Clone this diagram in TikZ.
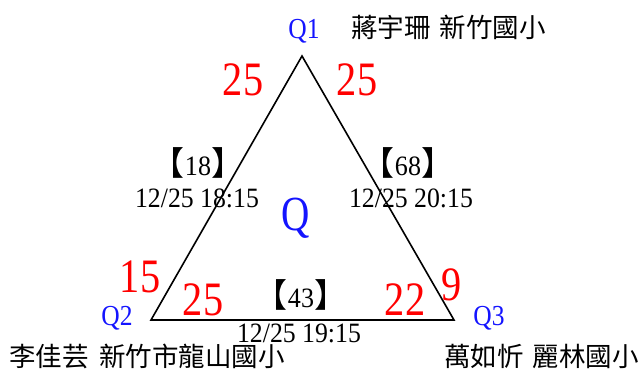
\documentclass[tikz,border=0pt]{standalone}
\usepackage{fontspec}
\usepackage{graphicx}
\setmainfont{Liberation Serif}
\newfontfamily\cjk{Noto Sans CJK TC}
\newcommand\nx[2][0.85]{\scalebox{#1}[1]{#2}}
\newcommand\lbr{{\cjk\fontsize{33}{33}\selectfont\makebox[0.42em][r]{【}}}
\newcommand\rbr{{\cjk\fontsize{33}{33}\selectfont\makebox[0.42em][l]{】}}}
\definecolor{qred}{RGB}{255,0,0}
\definecolor{qblue}{RGB}{20,20,255}
\begin{document}
\begin{tikzpicture}[x=1pt,y=-1pt,
  edge/.style={line width=1.6pt,line join=miter},
  num/.style={text=qred,font=\fontsize{48}{48}\selectfont,inner sep=0pt,anchor=base},
  vlab/.style={text=qblue,font=\fontsize{29}{29}\selectfont,inner sep=0pt,anchor=base},
  info/.style={font=\fontsize{28}{28}\selectfont,inner sep=0pt,anchor=base},
  cname/.style={font=\cjk\fontsize{26.5}{26.5}\selectfont,inner sep=0pt}]
\useasboundingbox (0,0) rectangle (643,372);
\coordinate (A) at (302,56);
\coordinate (B) at (151,320);
\coordinate (C) at (454,320);
\draw[edge] (A) -- (B) -- (C) -- cycle;
% vertex labels
\node[vlab] (q1) at (304,38) {\nx[0.88]{Q1}};
\node[vlab] (q2) at (117,325) {\nx[0.88]{Q2}};
\node[vlab] (q3) at (489,325) {\nx[0.88]{Q3}};
\node[text=qblue,font=\fontsize{49}{49}\selectfont,inner sep=0pt,anchor=base] (q) at (296,230) {\nx[0.8]{Q}};
% names
\node[cname,anchor=base west] (n1) at (351,37) {蔣宇珊\hspace{0.35em}新竹國小};
\node[cname,anchor=base west] (n2) at (9,366) {李佳芸\hspace{0.4em}新竹市龍山國小};
\node[cname,anchor=base west] (n3) at (444,366) {萬如忻\hspace{0.35em}麗林國小};
% red numbers
\node[num] (a1) at (243,95) {\nx[0.84]{25}};
\node[num] (a2) at (357,95) {\nx[0.84]{25}};
\node[num] (b1) at (140,292) {\nx[0.84]{15}};
\node[num] (b2) at (203,315) {\nx[0.84]{25}};
\node[num] (c1) at (405,315) {\nx[0.84]{22}};
\node[num] (c2) at (452,300) {\nx[0.84]{9}};
% edge info
\node[info] (e1) at (198,175) {\lbr\nx[0.93]{18}\rbr};
\node[info] (d1) at (197,207) {\nx[0.92]{12/25 18:15}};
\node[info] (e2) at (408,175) {\lbr\nx[0.93]{68}\rbr};
\node[info] (d2) at (411,207) {\nx[0.92]{12/25 20:15}};
\node[info] (e3) at (301,307) {\lbr\nx[0.93]{43}\rbr};
\node[info] (d3) at (299,342) {\nx[0.92]{12/25 19:15}};
\end{tikzpicture}
\end{document}
